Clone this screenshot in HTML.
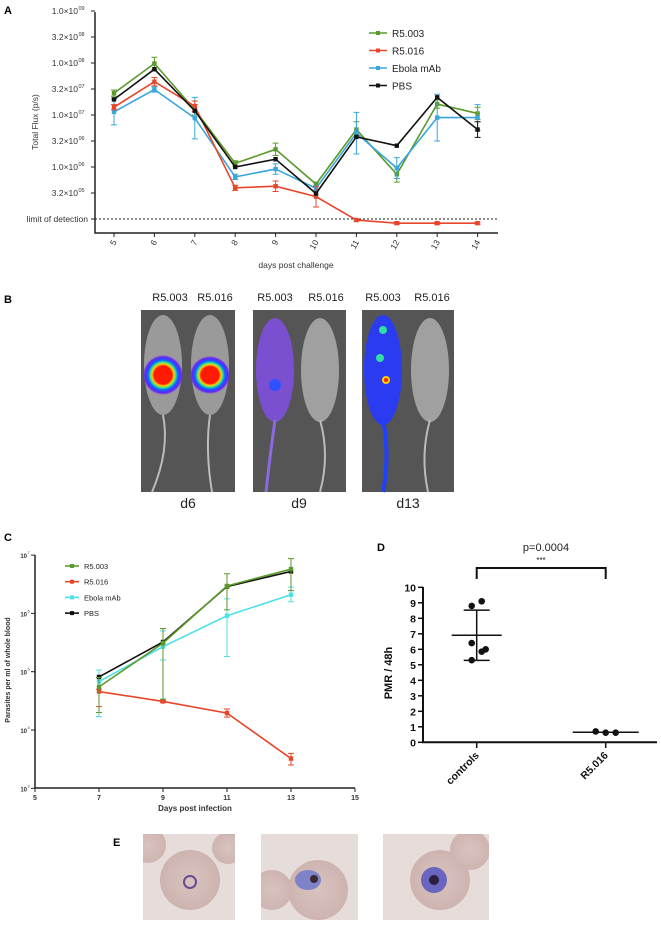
<!DOCTYPE html>
<html><head><meta charset="utf-8"><style>
html,body{margin:0;padding:0;background:#fff;}
svg{display:block;font-family:"Liberation Sans",sans-serif;}
</style></head><body>
<svg id="fig" width="661" height="925" viewBox="0 0 661 925" xmlns="http://www.w3.org/2000/svg">
<defs>
<radialGradient id="heat" cx="50%" cy="50%" r="50%">
<stop offset="0" stop-color="#ff1a00"/><stop offset="0.45" stop-color="#ff1a00"/><stop offset="0.55" stop-color="#ffd000"/><stop offset="0.65" stop-color="#22e0a0"/><stop offset="0.75" stop-color="#1060ff"/><stop offset="0.9" stop-color="#6a20ff"/><stop offset="1" stop-color="#6a20ff" stop-opacity="0"/>
</radialGradient>
<radialGradient id="cellbg" cx="50%" cy="50%" r="70%"><stop offset="0" stop-color="#d9c3bf"/><stop offset="1" stop-color="#c9aeaa"/></radialGradient>
<clipPath id="clipE1"><rect x="143" y="834" width="92" height="86"/></clipPath>
<clipPath id="clipE2"><rect x="261" y="834" width="97" height="86"/></clipPath>
<clipPath id="clipE3"><rect x="383" y="834" width="106" height="86"/></clipPath>
</defs>

<text x="4" y="14" font-size="11" font-weight="bold">A</text>
<text x="4" y="303" font-size="11" font-weight="bold">B</text>
<text x="4" y="541" font-size="11" font-weight="bold">C</text>
<text x="377" y="551" font-size="11" font-weight="bold">D</text>
<text x="113" y="846" font-size="11" font-weight="bold">E</text>

<g id="chartA"></g>

<g id="panelB">
  <g font-size="11" fill="#222" text-anchor="middle">
    <text x="170" y="301">R5.003</text>
    <text x="215" y="301">R5.016</text>
    <text x="275" y="301">R5.003</text>
    <text x="326" y="301">R5.016</text>
    <text x="383" y="301">R5.003</text>
    <text x="432" y="301">R5.016</text>
  </g>
  <g>
    <rect x="141" y="310" width="94" height="182" fill="#555"/>
    <ellipse cx="163" cy="365" rx="19" ry="50" fill="#9a9a9a"/>
    <ellipse cx="210" cy="365" rx="19" ry="50" fill="#9a9a9a"/>
    <path d="M163 415 Q170 450 152 492" stroke="#bbb" stroke-width="2" fill="none"/>
    <path d="M210 415 Q205 450 212 492" stroke="#bbb" stroke-width="2" fill="none"/>
    <ellipse cx="163" cy="375" rx="20" ry="20" fill="url(#heat)"/>
    <ellipse cx="210" cy="375" rx="20" ry="19" fill="url(#heat)"/>
  </g>
  <g>
    <rect x="253" y="310" width="93" height="182" fill="#555"/>
    <ellipse cx="275" cy="370" rx="19" ry="52" fill="#7a50d0"/>
    <ellipse cx="320" cy="370" rx="19" ry="52" fill="#a0a0a0"/>
    <path d="M275 420 Q270 455 266 492" stroke="#8a6ae0" stroke-width="3" fill="none"/>
    <path d="M320 420 Q330 455 320 492" stroke="#bbb" stroke-width="2" fill="none"/>
    <circle cx="275" cy="385" r="6" fill="#3050ff"/>
  </g>
  <g>
    <rect x="362" y="310" width="92" height="182" fill="#555"/>
    <ellipse cx="383" cy="370" rx="19" ry="55" fill="#2b3cf0"/>
    <ellipse cx="430" cy="370" rx="19" ry="52" fill="#a0a0a0"/>
    <path d="M383 420 Q390 455 383 492" stroke="#2040ff" stroke-width="4" fill="none"/>
    <path d="M430 420 Q420 455 428 492" stroke="#bbb" stroke-width="2" fill="none"/>
    <circle cx="383" cy="330" r="4" fill="#30e0a0"/>
    <circle cx="380" cy="358" r="4" fill="#30e0a0"/>
    <circle cx="386" cy="380" r="4" fill="#ffd000"/>
    <circle cx="386" cy="380" r="2" fill="#ff2000"/>
  </g>
  <g font-size="14" fill="#222" text-anchor="middle">
    <text x="188" y="508">d6</text>
    <text x="299" y="508">d9</text>
    <text x="408" y="508">d13</text>
  </g>
</g>

<g id="chartC"></g>
<g id="chartD"></g>

<g>
  <g clip-path="url(#clipE1)">
    <rect x="143" y="834" width="92" height="86" fill="#e6dcd9"/>
    <circle cx="190" cy="880" r="30" fill="url(#cellbg)"/>
    <circle cx="148" cy="845" r="18" fill="url(#cellbg)"/><circle cx="228" cy="848" r="16" fill="url(#cellbg)"/>
    <circle cx="190" cy="882" r="6" fill="none" stroke="#6a4a90" stroke-width="2"/>
  </g>
  <g clip-path="url(#clipE2)">
    <rect x="261" y="834" width="97" height="86" fill="#e6dcd9"/>
    <circle cx="318" cy="890" r="30" fill="url(#cellbg)"/><circle cx="272" cy="890" r="20" fill="url(#cellbg)"/>
    <ellipse cx="308" cy="880" rx="13" ry="10" fill="#7e82c8"/>
    <circle cx="314" cy="879" r="4" fill="#3a2a30"/>
  </g>
  <g clip-path="url(#clipE3)">
    <rect x="383" y="834" width="106" height="86" fill="#e6dcd9"/>
    <circle cx="440" cy="880" r="30" fill="url(#cellbg)"/><circle cx="470" cy="850" r="20" fill="url(#cellbg)"/>
    <circle cx="434" cy="880" r="13" fill="#6a66c0"/>
    <circle cx="434" cy="880" r="5" fill="#2a2040"/>
  </g>
</g>
</svg>

<script>
// ---------- Panel A data ----------
var aDays = [5,6,7,8,9,10,11,12,13,14];
var aR5003 = [7.42,7.99,7.10,6.07,6.34,5.67,6.72,5.86,7.21,7.03];
var aR5016 = [7.15,7.64,7.17,5.60,5.63,5.43,4.98,4.92,4.92,4.92];
var aEbola = [7.06,7.49,6.94,5.81,5.96,5.59,6.65,5.98,6.95,6.95];
var aPBS   = [7.30,7.88,7.08,6.00,6.15,5.49,6.58,6.41,7.34,6.72];
var aErrR5003 = [0.06,0.12,0.10,0.05,0.12,0.04,0.15,0.15,0.08,0.12];
var aErrR5016 = [0.05,0.08,0.10,0.05,0.10,0.20,0.02,0.02,0.02,0.02];
var aErrEbola = [0.25,0.05,0.40,0.05,0.10,0.05,0.40,0.20,0.45,0.25];
var aErrPBS   = [0,0,0,0,0,0,0,0,0,0.15];
var aYTicks = [9,8.5,8,7.5,7,6.5,6,5.5];
var aYLabels = ["1.0\u00d710","3.2\u00d710","1.0\u00d710","3.2\u00d710","1.0\u00d710","3.2\u00d710","1.0\u00d710","3.2\u00d710"];
var aYExp = ["09","08","08","07","07","06","06","05"];
var aLOD = 5;

// ---------- Panel C data ----------
var cDays = [7,9,11,13];
var cR5003 = [4.74,5.49,6.47,6.76];
var cR5016 = [4.66,4.49,4.29,3.51];
var cEbola = [4.83,5.43,5.96,6.32];
var cPBS   = [4.91,5.51,6.46,6.72];
var cHiR5003 = [4.90,5.74,6.68,6.94], cLoR5003 = [4.30,4.53,6.06,6.39];
var cHiR5016 = [4.70,4.51,4.36,3.60], cLoR5016 = [4.40,4.47,4.22,3.40];
var cHiEbola = [5.03,5.70,6.25,6.45], cLoEbola = [4.23,5.20,5.26,6.20];
var cXTicks = [5,7,9,11,13,15];
var cYTicks = [3,4,5,6,7];

// ---------- Panel D data ----------
var dGroups = ["controls","R5.016"];
var dControls = [9.1,8.8,6.4,6.0,5.85,5.3];
var dR5016 = [0.7,0.62,0.62];
var dJitterC = [5,-5,-5,9,5,-5];
var dJitterR = [-10,0,10];
var dYTicks = [0,1,2,3,4,5,6,7,8,9,10];
var dPText = "p=0.0004";

var NS = "http://www.w3.org/2000/svg";
function mk(parent, tag, attrs){ var e=document.createElementNS(NS,tag); for(var k in attrs) e.setAttribute(k,attrs[k]); parent.appendChild(e); return e; }
function mean(a){var s=0;for(var i=0;i<a.length;i++)s+=a[i];return s/a.length;}
function sd(a){var m=mean(a),s=0;for(var i=0;i<a.length;i++)s+=(a[i]-m)*(a[i]-m);return Math.sqrt(s/(a.length-1));}

// ===== Chart A =====
(function(){
  var g=document.getElementById('chartA');
  function X(d){return 114+(d-5)*40.4;}
  function Y(v){return 219-(v-aLOD)*52;}
  var ax=mk(g,'path',{d:'M95 12 V233 H498',stroke:'#222','stroke-width':1.5,fill:'none'});
  
  
  for(var i=0;i<aYTicks.length;i++){
    var y=Y(aYTicks[i]);
    mk(g,'line',{x1:91,x2:95,y1:y,y2:y,stroke:'#222'});
    var t=mk(g,'text',{x:78,y:y+3,'font-size':8.5,'text-anchor':'end',fill:'#333'});
    
    
    t.textContent=aYLabels[i];
    var s=mk(g,'text',{x:78.5,y:y-1,'font-size':5.5,fill:'#333'}); s.textContent=aYExp[i];
    
    
  }
  mk(g,'line',{x1:91,x2:95,y1:Y(aLOD),y2:Y(aLOD),stroke:'#222'});
  var lod=mk(g,'line',{x1:95,x2:498,y1:Y(aLOD),y2:Y(aLOD),stroke:'#222','stroke-dasharray':'2,2'});
  
  
  var lt=mk(g,'text',{x:88,y:Y(aLOD)+3,'font-size':8.5,'text-anchor':'end',fill:'#333'}); lt.textContent='limit of detection';
  
  
  for(var j=0;j<aDays.length;j++){
    var x=X(aDays[j]);
    mk(g,'line',{x1:x,x2:x,y1:233,y2:237,stroke:'#222'});
    var tl=mk(g,'text',{x:x+3,y:242,'font-size':8.5,'text-anchor':'end',fill:'#333',transform:'rotate(-60 '+(x+3)+' 242)'});
    tl.textContent=aDays[j];
    
    
  }
  var xt=mk(g,'text',{x:296,y:268,'font-size':8.5,'text-anchor':'middle',fill:'#333'}); xt.textContent='days post challenge';
  
  
  var yt=mk(g,'text',{x:38,y:122,'font-size':8.5,'text-anchor':'middle',fill:'#333',transform:'rotate(-90 38 122)'}); yt.textContent='Total Flux (p/s)';
  
  
  var series=[["r5003",aR5003,aErrR5003,"#5a9a2a"],["ebola",aEbola,aErrEbola,"#3aa6dc"],["r5016",aR5016,aErrR5016,"#e8462a"],["pbs",aPBS,aErrPBS,"#111"]];
  series.forEach(function(s){
    var sg=mk(g,'g',{});
    
    
    var d='';
    for(var i=0;i<aDays.length;i++){
      var x=X(aDays[i]),y=Y(s[1][i]);
      d+=(i?'L':'M')+x+' '+y;
      if(s[2][i]>0){
        var y1=Y(s[1][i]+s[2][i]),y2=Y(s[1][i]-s[2][i]);
        var eb=mk(sg,'path',{d:'M'+x+' '+y1+'V'+y2+'M'+(x-3)+' '+y1+'H'+(x+3)+'M'+(x-3)+' '+y2+'H'+(x+3),stroke:s[3],'stroke-width':1,fill:'none'});
        
        
      }
    }
    var ln=mk(sg,'path',{d:d,stroke:s[3],'stroke-width':1.6,fill:'none'});
    
    
    for(var k=0;k<aDays.length;k++){
      var m=mk(sg,'rect',{x:X(aDays[k])-2.2,y:Y(s[1][k])-2.2,width:4.4,height:4.4,fill:s[3]});
      
      
    }
  });
  var leg=[["R5.003","#5a9a2a"],["R5.016","#e8462a"],["Ebola mAb","#3aa6dc"],["PBS","#111"]];
  leg.forEach(function(l,i){
    var y=33+i*17.5;
    var lg=mk(g,'g',{});
    
    
    mk(lg,'line',{x1:369,x2:387,y1:y,y2:y,stroke:l[1],'stroke-width':1.6});
    mk(lg,'rect',{x:376,y:y-2,width:4,height:4,fill:l[1]});
    var t=mk(lg,'text',{x:392,y:y+4,'font-size':10,fill:'#222'}); t.textContent=l[0];
  });
})();

// ===== Chart C =====
(function(){
  var g=document.getElementById('chartC');
  function X(d){return 35+(d-5)*32;}
  function Y(v){return 788.3-(v-3)*58.3;}
  var ax=mk(g,'path',{d:'M35 555 V788 H355',stroke:'#222','stroke-width':1.5,fill:'none'});
  
  
  cYTicks.forEach(function(v){
    var y=Y(v);
    mk(g,'line',{x1:31,x2:35,y1:y,y2:y,stroke:'#222'});
    var t=mk(g,'text',{x:27,y:y+3,'font-size':6,'text-anchor':'end',fill:'#333','font-weight':'bold'}); t.textContent='10';
    
    
    var s=mk(g,'text',{x:27.5,y:y-1,'font-size':4,fill:'#333'}); s.textContent=String(v);
    
    
  });
  cXTicks.forEach(function(d){
    var x=X(d);
    mk(g,'line',{x1:x,x2:x,y1:788,y2:792,stroke:'#222'});
    var t=mk(g,'text',{x:x,y:800,'font-size':7,'text-anchor':'middle',fill:'#333','font-weight':'bold'}); t.textContent=d;
    
    
  });
  var xt=mk(g,'text',{x:195,y:811,'font-size':8,'text-anchor':'middle','font-weight':'bold',fill:'#333'}); xt.textContent='Days post infection';
  
  
  var yt=mk(g,'text',{x:10,y:670,'font-size':7,'text-anchor':'middle','font-weight':'bold',fill:'#333',transform:'rotate(-90 10 670)'}); yt.textContent='Parasites per ml of whole blood';
  
  
  var series=[["ebola",cEbola,cHiEbola,cLoEbola,"#4ee0e8"],["r5016",cR5016,cHiR5016,cLoR5016,"#e8462a"],["pbs",cPBS,null,null,"#111"],["r5003",cR5003,cHiR5003,cLoR5003,"#5a9a2a"]];
  series.forEach(function(s){
    var sg=mk(g,'g',{});
    
    
    var d='';
    for(var i=0;i<cDays.length;i++){
      var x=X(cDays[i]);
      d+=(i?'L':'M')+x+' '+Y(s[1][i]);
      if(s[2]){
        var y1=Y(s[2][i]),y2=Y(s[3][i]);
        var eb=mk(sg,'path',{d:'M'+x+' '+y1+'V'+y2+'M'+(x-3)+' '+y1+'H'+(x+3)+'M'+(x-3)+' '+y2+'H'+(x+3),stroke:s[4],'stroke-width':1,fill:'none'});
        
        
      }
    }
    var ln=mk(sg,'path',{d:d,stroke:s[4],'stroke-width':1.6,fill:'none'});
    
    
    for(var k=0;k<cDays.length;k++){
      var m=mk(sg,'rect',{x:X(cDays[k])-2.2,y:Y(s[1][k])-2.2,width:4.4,height:4.4,fill:s[4]});
      
      
    }
  });
  var leg=[["R5.003","#5a9a2a"],["R5.016","#e8462a"],["Ebola mAb","#4ee0e8"],["PBS","#111"]];
  leg.forEach(function(l,i){
    var y=566+i*15.7;
    var lg=mk(g,'g',{});
    
    
    mk(lg,'line',{x1:65,x2:79,y1:y,y2:y,stroke:l[1],'stroke-width':1.6});
    mk(lg,'rect',{x:70,y:y-2,width:4,height:4,fill:l[1]});
    var t=mk(lg,'text',{x:84,y:y+3,'font-size':7.5,fill:'#222'}); t.textContent=l[0];
  });
})();

// ===== Chart D =====
(function(){
  var g=document.getElementById('chartD');
  var gx=[476.7,605.7];
  function Y(v){return 742.3-v*15.5;}
  var ax=mk(g,'path',{d:'M423 587 V742.3 H657',stroke:'#111','stroke-width':2,fill:'none'});
  
  
  dYTicks.forEach(function(v){
    var y=Y(v);
    mk(g,'line',{x1:418,x2:423,y1:y,y2:y,stroke:'#111','stroke-width':1.5});
    var t=mk(g,'text',{x:416,y:y+4,'font-size':10.5,'text-anchor':'end','font-weight':'bold',fill:'#111'}); t.textContent=v;
    
    
  });
  dGroups.forEach(function(name,i){
    var x=gx[i];
    mk(g,'line',{x1:x,x2:x,y1:742,y2:748,stroke:'#111','stroke-width':1.5});
    var t=mk(g,'text',{x:x+3,y:756,'font-size':10.5,'text-anchor':'end','font-weight':'bold',fill:'#111',transform:'rotate(-45 '+(x+3)+' 756)'}); t.textContent=name;
    
    
  });
  var yt=mk(g,'text',{x:392,y:673,'font-size':11,'text-anchor':'middle','font-weight':'bold',fill:'#111',transform:'rotate(-90 392 673)'}); yt.textContent='PMR / 48h';
  
  
  var sets=[[dControls,dJitterC],[dR5016,dJitterR]];
  sets.forEach(function(s,i){
    var x=gx[i], m=mean(s[0]), sdv=sd(s[0]);
    var mg=mk(g,'g',{});
    
    
    var hw=i===0?25:33;
    mk(mg,'line',{x1:x-hw,x2:x+hw,y1:Y(m),y2:Y(m),stroke:'#111','stroke-width':1.5});
    if(i===0){
      mk(mg,'line',{x1:x,x2:x,y1:Y(m+sdv),y2:Y(m-sdv),stroke:'#111','stroke-width':1.5});
      mk(mg,'line',{x1:x-13,x2:x+13,y1:Y(m+sdv),y2:Y(m+sdv),stroke:'#111','stroke-width':1.5});
      mk(mg,'line',{x1:x-13,x2:x+13,y1:Y(m-sdv),y2:Y(m-sdv),stroke:'#111','stroke-width':1.5});
    }
    for(var k=0;k<s[0].length;k++){
      var c=mk(g,'circle',{cx:x+s[1][k],cy:Y(s[0][k]),r:3.3,fill:'#111'});
      
      
    }
  });
  var br=mk(g,'path',{d:'M'+gx[0]+' 579 V568 H'+gx[1]+' V579',stroke:'#111','stroke-width':2,fill:'none'});
  
  
  var pt=mk(g,'text',{x:546,y:551,'font-size':11,'text-anchor':'middle',fill:'#222'}); pt.textContent=dPText;
  
  
  var st=mk(g,'text',{x:541,y:563,'font-size':8,'text-anchor':'middle',fill:'#222'}); st.textContent='***';
  
  
})();
</script>
</body></html>
